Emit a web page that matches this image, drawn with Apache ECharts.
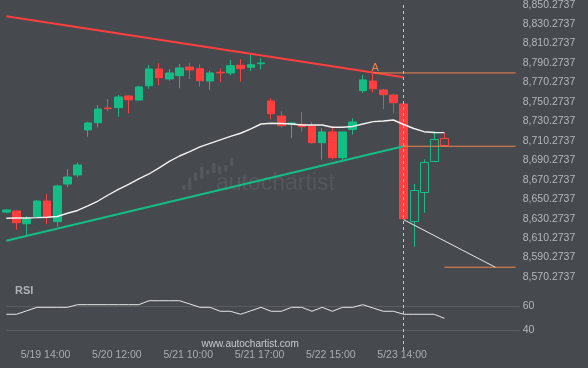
<!DOCTYPE html>
<html><head><meta charset="utf-8">
<script src="https://cdn.jsdelivr.net/npm/echarts/dist/echarts.min.js"></script>
<style>html,body{margin:0;padding:0;background:#464a4f;}#c{width:588px;height:368px;}</style>
</head><body><div id="c"></div>
<script>
// ---- data ----
const categories = [
 '5/19 10:00','5/19 11:00','5/19 12:00','5/19 13:00','5/19 14:00','5/19 15:00','5/19 16:00','5/19 17:00',
 '5/20 09:00','5/20 10:00','5/20 11:00','5/20 12:00','5/20 13:00','5/20 14:00','5/20 15:00','5/20 16:00','5/20 17:00',
 '5/21 09:00','5/21 10:00','5/21 11:00','5/21 12:00','5/21 13:00','5/21 14:00','5/21 15:00','5/21 16:00','5/21 17:00',
 '5/22 09:00','5/22 10:00','5/22 11:00','5/22 12:00','5/22 13:00','5/22 14:00','5/22 15:00','5/22 16:00','5/22 17:00',
 '5/23 10:00','5/23 11:00','5/23 12:00','5/23 13:00','5/23 14:00','5/23 15:00','5/23 16:00','5/23 17:00','5/23 18:00',
 '5/24 09:00','5/24 10:00','5/24 11:00','5/24 12:00','5/24 13:00','5/24 14:00','5/24 15:00'
];
const xTickLabels = ['5/19 14:00','5/20 12:00','5/21 10:00','5/21 17:00','5/22 15:00','5/23 14:00'];
const yTicks = [8570.2737,8590.2737,8610.2737,8630.2737,8650.2737,8670.2737,8690.2737,8710.2737,8730.2737,8750.2737,8770.2737,8790.2737,8810.2737,8830.2737,8850.2737];
const rsiTicks = [40, 60];
// [open, close, low, high]
const candles = [
 [8637.0,8639.2,8636.0,8640.2],[8638.2,8626.1,8618.9,8638.7],[8625.1,8629.9,8612.5,8632.7],[8632.3,8648.4,8632.0,8649.5],
 [8648.4,8632.3,8624.5,8655.6],[8627.2,8663.9,8622.0,8665.2],[8665.9,8673.1,8662.5,8681.0],[8675.2,8685.5,8672.8,8688.2],
 [8721.5,8728.7,8714.6,8730.0],[8728.9,8743.0,8724.2,8747.2],[8744.1,8743.4,8740.7,8753.3],[8744.4,8755.4,8735.1,8757.4],
 [8756.4,8752.6,8738.6,8756.9],[8752.3,8765.7,8751.3,8766.7],[8767.0,8784.2,8763.9,8788.3],[8784.2,8775.2,8767.4,8790.0],
 [8773.9,8780.1,8772.1,8784.2],[8777.3,8785.2,8764.3,8789.3],[8786.2,8783.2,8773.9,8790.0],[8784.5,8772.1,8766.0,8789.0],
 [8771.8,8780.1,8762.6,8782.4],[8780.8,8780.1,8770.5,8784.5],[8780.1,8787.6,8777.7,8793.4],[8788.0,8784.5,8771.1,8794.2],
 [8785.9,8788.6,8782.1,8798.6],[8789.6,8790.3,8783.9,8795.2],[8751.3,8738.2,8732.5,8754.4],[8735.8,8725.9,8723.8,8740.7],
 [8727.6,8728.7,8712.9,8729.4],[8727.3,8724.8,8719.7,8739.7],[8725.6,8708.4,8707.4,8729.4],[8708.4,8719.4,8690.9,8723.2],
 [8719.4,8693.0,8691.3,8725.6],[8693.0,8719.4,8689.9,8719.4],[8722.0,8729.7,8716.8,8733.5],[8761.9,8772.9,8759.5,8778.0],
 [8771.8,8763.9,8760.2,8779.8],[8762.6,8757.8,8742.7,8763.6],[8757.4,8749.5,8738.6,8758.8],[8748.2,8630.2,8628.9,8748.7],
 [8628.2,8659.8,8601.5,8665.9],[8658.0,8688.2,8636.4,8691.3],[8689.9,8712.2,8689.9,8720.4],[8712.9,8706.3,8706.3,8718.1]
];
const hollowFrom = 40;
const movingAvg = [8630.7,8631.0,8631.0,8631.3,8631.7,8632.5,8635.8,8638.7,8643.3,8648.4,8654.6,8660.3,8665.4,8671.1,8676.2,
 8682.4,8689.1,8694.7,8699.3,8704.0,8707.6,8711.2,8714.8,8718.1,8722.5,8727.6,8728.3,8728.1,8727.6,8726.6,8726.6,8726.6,
 8724.2,8724.2,8725.1,8727.6,8730.0,8730.7,8731.7,8727.1,8723.0,8719.7,8718.9,8718.7];
const rsi = [53.1,53.1,56,58.9,58.9,58.9,58.9,61.1,61.1,61.1,61.1,61.1,61.1,61.1,64.4,64.4,64.4,64.4,61.7,58.9,58.9,55.6,55.6,
 53.1,56,58.9,55.6,55.6,58.9,58.9,55.6,58.9,55.6,58.9,58.9,61.1,58.3,55.6,55.6,53.1,53.1,53.1,53.1,49.75];
const resistanceLine = [[0, 8838.4], [39, 8775.6]];
const supportLine = [[0, 8607.5], [39, 8704.7]];
const levelA = [[36, 8780.1], [50, 8780.1]];
const breakoutLevel = [[39, 8704.7], [50, 8704.7]];
const targetLevel = [[43, 8580.3], [50, 8580.3]];
const forecastArrow = [[39, 8629.2], [48, 8580.3]];
const markerIndex = 39;

// ---- styles ----
const BG = '#464a4f', UP = '#14bd86', DOWN = '#ff3f3f', ORANGE = '#f0834c', LABEL = '#b3b6ba', GRIDC = '#5a5e63';
const L = 6.33, R = 72.3;
const FONT = 'Liberation Sans, Arial, sans-serif';
function fmt(v){
  const t = yTicks.reduce((a, b) => Math.abs(b - v) < Math.abs(a - v) ? b : a);
  const s = t.toFixed(4).split('.');
  return s[0].replace(/\B(?=(\d{3})+(?!\d))/g, ',') + '.' + s[1];
}

const filledData = candles.map((c, i) => i < hollowFrom ? c : '-');
const hollowData = [];
candles.forEach((c, i) => { if (i >= hollowFrom) hollowData.push([i, c[0], c[1], c[2], c[3]]); });
function seg(data, color, width, extra) {
  return Object.assign({ type: 'line', xAxisIndex: 0, yAxisIndex: 0, data: data, symbol: 'none', silent: true,
    lineStyle: { color: color, width: width }, z: 4 }, extra || {});
}
function renderHollow(params, api) {
  const x = api.value(0), o = api.value(1), c = api.value(2), lo = api.value(3), hi = api.value(4);
  const pO = api.coord([x, o]), pC = api.coord([x, c]), pL = api.coord([x, lo]), pH = api.coord([x, hi]);
  const color = c >= o ? UP : DOWN;
  const cx = Math.round(pO[0]) + 0.5;
  const top = Math.round(Math.min(pO[1], pC[1])) + 0.5, bot = Math.round(Math.max(pO[1], pC[1])) + 0.5;
  const w = 8;
  return { type: 'group', children: [
    { type: 'line', shape: { x1: cx, y1: pH[1], x2: cx, y2: top }, style: { stroke: color, lineWidth: 1 } },
    { type: 'line', shape: { x1: cx, y1: bot, x2: cx, y2: pL[1] }, style: { stroke: color, lineWidth: 1 } },
    { type: 'rect', shape: { x: cx - w / 2, y: top, width: w, height: bot - top }, style: { fill: 'none', stroke: color, lineWidth: 1 } }
  ] };
}

const chart = echarts.init(document.getElementById('c'), null, { renderer: 'canvas' });
chart.setOption({
  backgroundColor: BG,
  animation: false,
  grid: [
    { left: L, right: R, top: 4.7, bottom: 91, outerBoundsMode: 'none', containLabel: false },
    { left: L, right: R, top: 306, bottom: 38, outerBoundsMode: 'none', containLabel: false },
    { left: L, right: R, top: 4.7, bottom: 18, outerBoundsMode: 'none', containLabel: false }
  ],
  xAxis: [
    { type: 'category', gridIndex: 0, data: categories, boundaryGap: false, show: false },
    { type: 'category', gridIndex: 1, data: categories, boundaryGap: false,
      axisLine: { show: false }, axisTick: { show: false }, splitLine: { show: false },
      axisLabel: { interval: 0, margin: 20, color: '#a9adb1', fontSize: 10.5, fontFamily: FONT, padding: [0, 3, 0, 0],
        formatter: v => xTickLabels.indexOf(v) >= 0 ? v : '' } },
    { type: 'category', gridIndex: 2, data: categories, boundaryGap: false, show: false }
  ],
  yAxis: [
    { type: 'value', gridIndex: 0, position: 'right', min: yTicks[0], max: yTicks[yTicks.length - 1], interval: 20,
      axisLine: { show: false }, axisTick: { show: false }, splitLine: { show: false },
      axisLabel: { margin: 7, color: LABEL, fontSize: 10.5, fontFamily: FONT, formatter: fmt } },
    { type: 'value', gridIndex: 1, position: 'right', min: rsiTicks[0], max: rsiTicks[1], interval: 20,
      axisLine: { show: false }, axisTick: { show: true, length: 4, lineStyle: { color: GRIDC } },
      splitLine: { show: true, lineStyle: { color: GRIDC, width: 1 } },
      axisLabel: { margin: 7, color: LABEL, fontSize: 10.5, fontFamily: FONT } },
    { type: 'value', gridIndex: 2, min: 0, max: 1, show: false }
  ],
  graphic: [
    { type: 'text', left: 216, top: 172, z: 0, silent: true,
      style: { text: 'autochartist', fill: '#54585d', font: '23px "Liberation Sans", Arial, sans-serif' } },
    { type: 'group', left: 182, top: 158, z: 0, silent: true, children: [
      { type: 'rect', shape: { x: 0, y: 27, width: 3.4, height: 5, r: 1 }, style: { fill: '#54585d' } },
      { type: 'rect', shape: { x: 6, y: 19.7, width: 3.4, height: 12.3, r: 1 }, style: { fill: '#54585d' } },
      { type: 'rect', shape: { x: 12, y: 14.7, width: 3.4, height: 8.3, r: 1 }, style: { fill: '#54585d' } },
      { type: 'rect', shape: { x: 18, y: 8.7, width: 3.4, height: 12.3, r: 1 }, style: { fill: '#54585d' } },
      { type: 'rect', shape: { x: 24, y: 12, width: 3.4, height: 5, r: 1 }, style: { fill: '#54585d' } },
      { type: 'rect', shape: { x: 30, y: 5.3, width: 3.4, height: 10, r: 1 }, style: { fill: '#54585d' } },
      { type: 'rect', shape: { x: 36, y: 8, width: 3.4, height: 8.3, r: 1 }, style: { fill: '#54585d' } },
      { type: 'rect', shape: { x: 42, y: 7.3, width: 3.4, height: 6.7, r: 1 }, style: { fill: '#54585d' } },
      { type: 'rect', shape: { x: 48, y: 0.3, width: 3.4, height: 7.7, r: 1 }, style: { fill: '#54585d' } }
    ] },
    { type: 'text', left: 15, top: 285, silent: true,
      style: { text: 'RSI', fill: '#aeb2b6', font: 'bold 11px "Liberation Sans", Arial, sans-serif' } },
    { type: 'text', left: 201.5, top: 339.5, silent: true,
      style: { text: 'www.autochartist.com', fill: '#c9cbcd', font: '10px "Liberation Sans", Arial, sans-serif' } }
  ],
  series: [
    { type: 'candlestick', xAxisIndex: 0, yAxisIndex: 0, data: filledData, barWidth: 8, clip: true, z: 3,
      itemStyle: { color: UP, color0: DOWN, borderColor: UP, borderColor0: DOWN, borderWidth: 1 } },
    { type: 'custom', xAxisIndex: 0, yAxisIndex: 0, data: hollowData, renderItem: renderHollow, z: 3, silent: true,
      encode: { x: 0, y: [1, 2, 3, 4] } },
    seg(movingAvg.map((v, i) => [i, v]), '#f2f2f2', 1.4, { z: 5 }),
    seg(resistanceLine, DOWN, 2),
    seg(supportLine, UP, 2),
    seg(levelA, ORANGE, 1, {
      markPoint: { silent: true, symbol: 'circle', symbolSize: 0,
        data: [{ coord: levelA[0], label: { show: true, formatter: 'A', position: 'inside', offset: [2, -5],
          color: ORANGE, fontSize: 11, fontFamily: FONT } }] } }),
    seg(breakoutLevel, ORANGE, 1),
    seg(targetLevel, ORANGE, 1),
    seg(forecastArrow, '#e8e8e8', 1, {
      lineStyle: { opacity: 0 },
      markLine: { silent: true, symbol: ['none', 'arrow'], symbolSize: [0, 8], animation: false,
        lineStyle: { color: '#e8e8e8', width: 1, type: 'solid' }, label: { show: false },
        data: [[{ coord: forecastArrow[0] }, { coord: forecastArrow[1] }]] } }),
    { type: 'line', xAxisIndex: 1, yAxisIndex: 1, data: rsi, symbol: 'none', clip: false, silent: true,
      lineStyle: { color: '#e6e6e6', width: 1 } },
    { type: 'line', xAxisIndex: 2, yAxisIndex: 2, data: [], symbol: 'none', silent: true,
      markLine: { silent: true, symbol: 'none', label: { show: false },
        lineStyle: { color: '#c4c6c8', width: 1, type: [3, 3] }, data: [{ xAxis: markerIndex }] } }
  ]
});
</script></body></html>
